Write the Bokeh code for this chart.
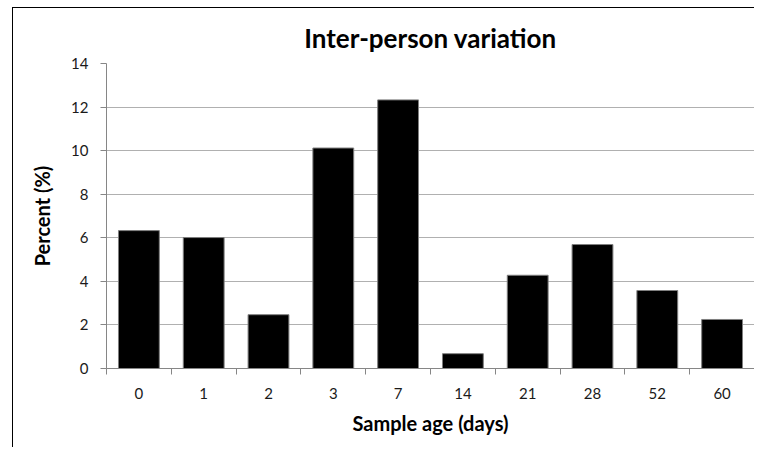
from bokeh.plotting import figure
from bokeh.models import FixedTicker, Range1d, ColumnDataSource
from bokeh.embed import file_html
from bokeh.resources import INLINE

categories = ["0", "1", "2", "3", "7", "14", "21", "28", "52", "60"]
percent = [6.33, 6.01, 2.47, 10.12, 12.33, 0.68, 4.28, 5.69, 3.58, 2.25]
y_ticks = [0, 2, 4, 6, 8, 10, 12, 14]

positions = [i + 0.5 for i in range(len(categories))]
source = ColumnDataSource(dict(x=positions, top=percent, label=categories))

FONT = "Lato"

p = figure(width=742, height=440, output_backend="svg", toolbar_location=None,
           x_range=Range1d(0, len(categories)), y_range=Range1d(0, 14),
           min_border_left=93, min_border_right=1, min_border_top=55, min_border_bottom=80,
           title="Inter-person variation")

p.vbar(x="x", top="top", width=0.63, source=source,
       fill_color="black", line_color="#7f7f7f", line_width=1)

p.title.align = "center"
p.title.text_font = FONT
p.title.text_font_size = "26px"
p.title.text_font_style = "bold"
p.title.text_color = "#000000"
p.title.standoff = 19

p.outline_line_color = None
p.background_fill_color = "white"
p.border_fill_color = "white"

# x axis
xa = p.xaxis[0]
xa.ticker = FixedTicker(ticks=positions, minor_ticks=list(range(len(categories) + 1)))
xa.major_label_overrides = {pos: lab for pos, lab in zip(positions, categories)}
xa.major_tick_out = 0
xa.major_tick_in = 0
xa.minor_tick_out = 6
xa.minor_tick_in = 0
xa.minor_tick_line_color = "#868686"
xa.axis_line_color = "#868686"
xa.major_label_text_font = FONT
xa.major_label_text_font_size = "15px"
xa.major_label_text_color = "#1a1a1a"
xa.major_label_standoff = 13
xa.axis_label = "Sample age (days)"
xa.axis_label_text_font = FONT
xa.axis_label_text_font_size = "20px"
xa.axis_label_text_font_style = "bold"
xa.axis_label_text_color = "#000000"
xa.axis_label_standoff = 9

# y axis
ya = p.yaxis[0]
ya.ticker = FixedTicker(ticks=y_ticks)
ya.major_tick_out = 6
ya.major_tick_in = 0
ya.minor_tick_out = 0
ya.minor_tick_in = 0
ya.major_tick_line_color = "#868686"
ya.axis_line_color = "#868686"
ya.major_label_text_font = FONT
ya.major_label_text_font_size = "15px"
ya.major_label_text_color = "#1a1a1a"
ya.major_label_standoff = 12
ya.axis_label = "Percent (%)"
ya.axis_label_text_font = FONT
ya.axis_label_text_font_size = "20px"
ya.axis_label_text_font_style = "bold"
ya.axis_label_text_color = "#000000"
ya.axis_label_standoff = 14

p.xgrid.grid_line_color = None
p.ygrid.grid_line_color = "#b0b0b0"
p.ygrid.grid_line_width = 1
p.ygrid.level = "underlay"

p.styles = {"border-left": "1px solid black", "border-top": "1px solid black",
            "margin-left": "12px", "margin-top": "7px"}

open("out.html", "w").write(file_html(p, INLINE))
